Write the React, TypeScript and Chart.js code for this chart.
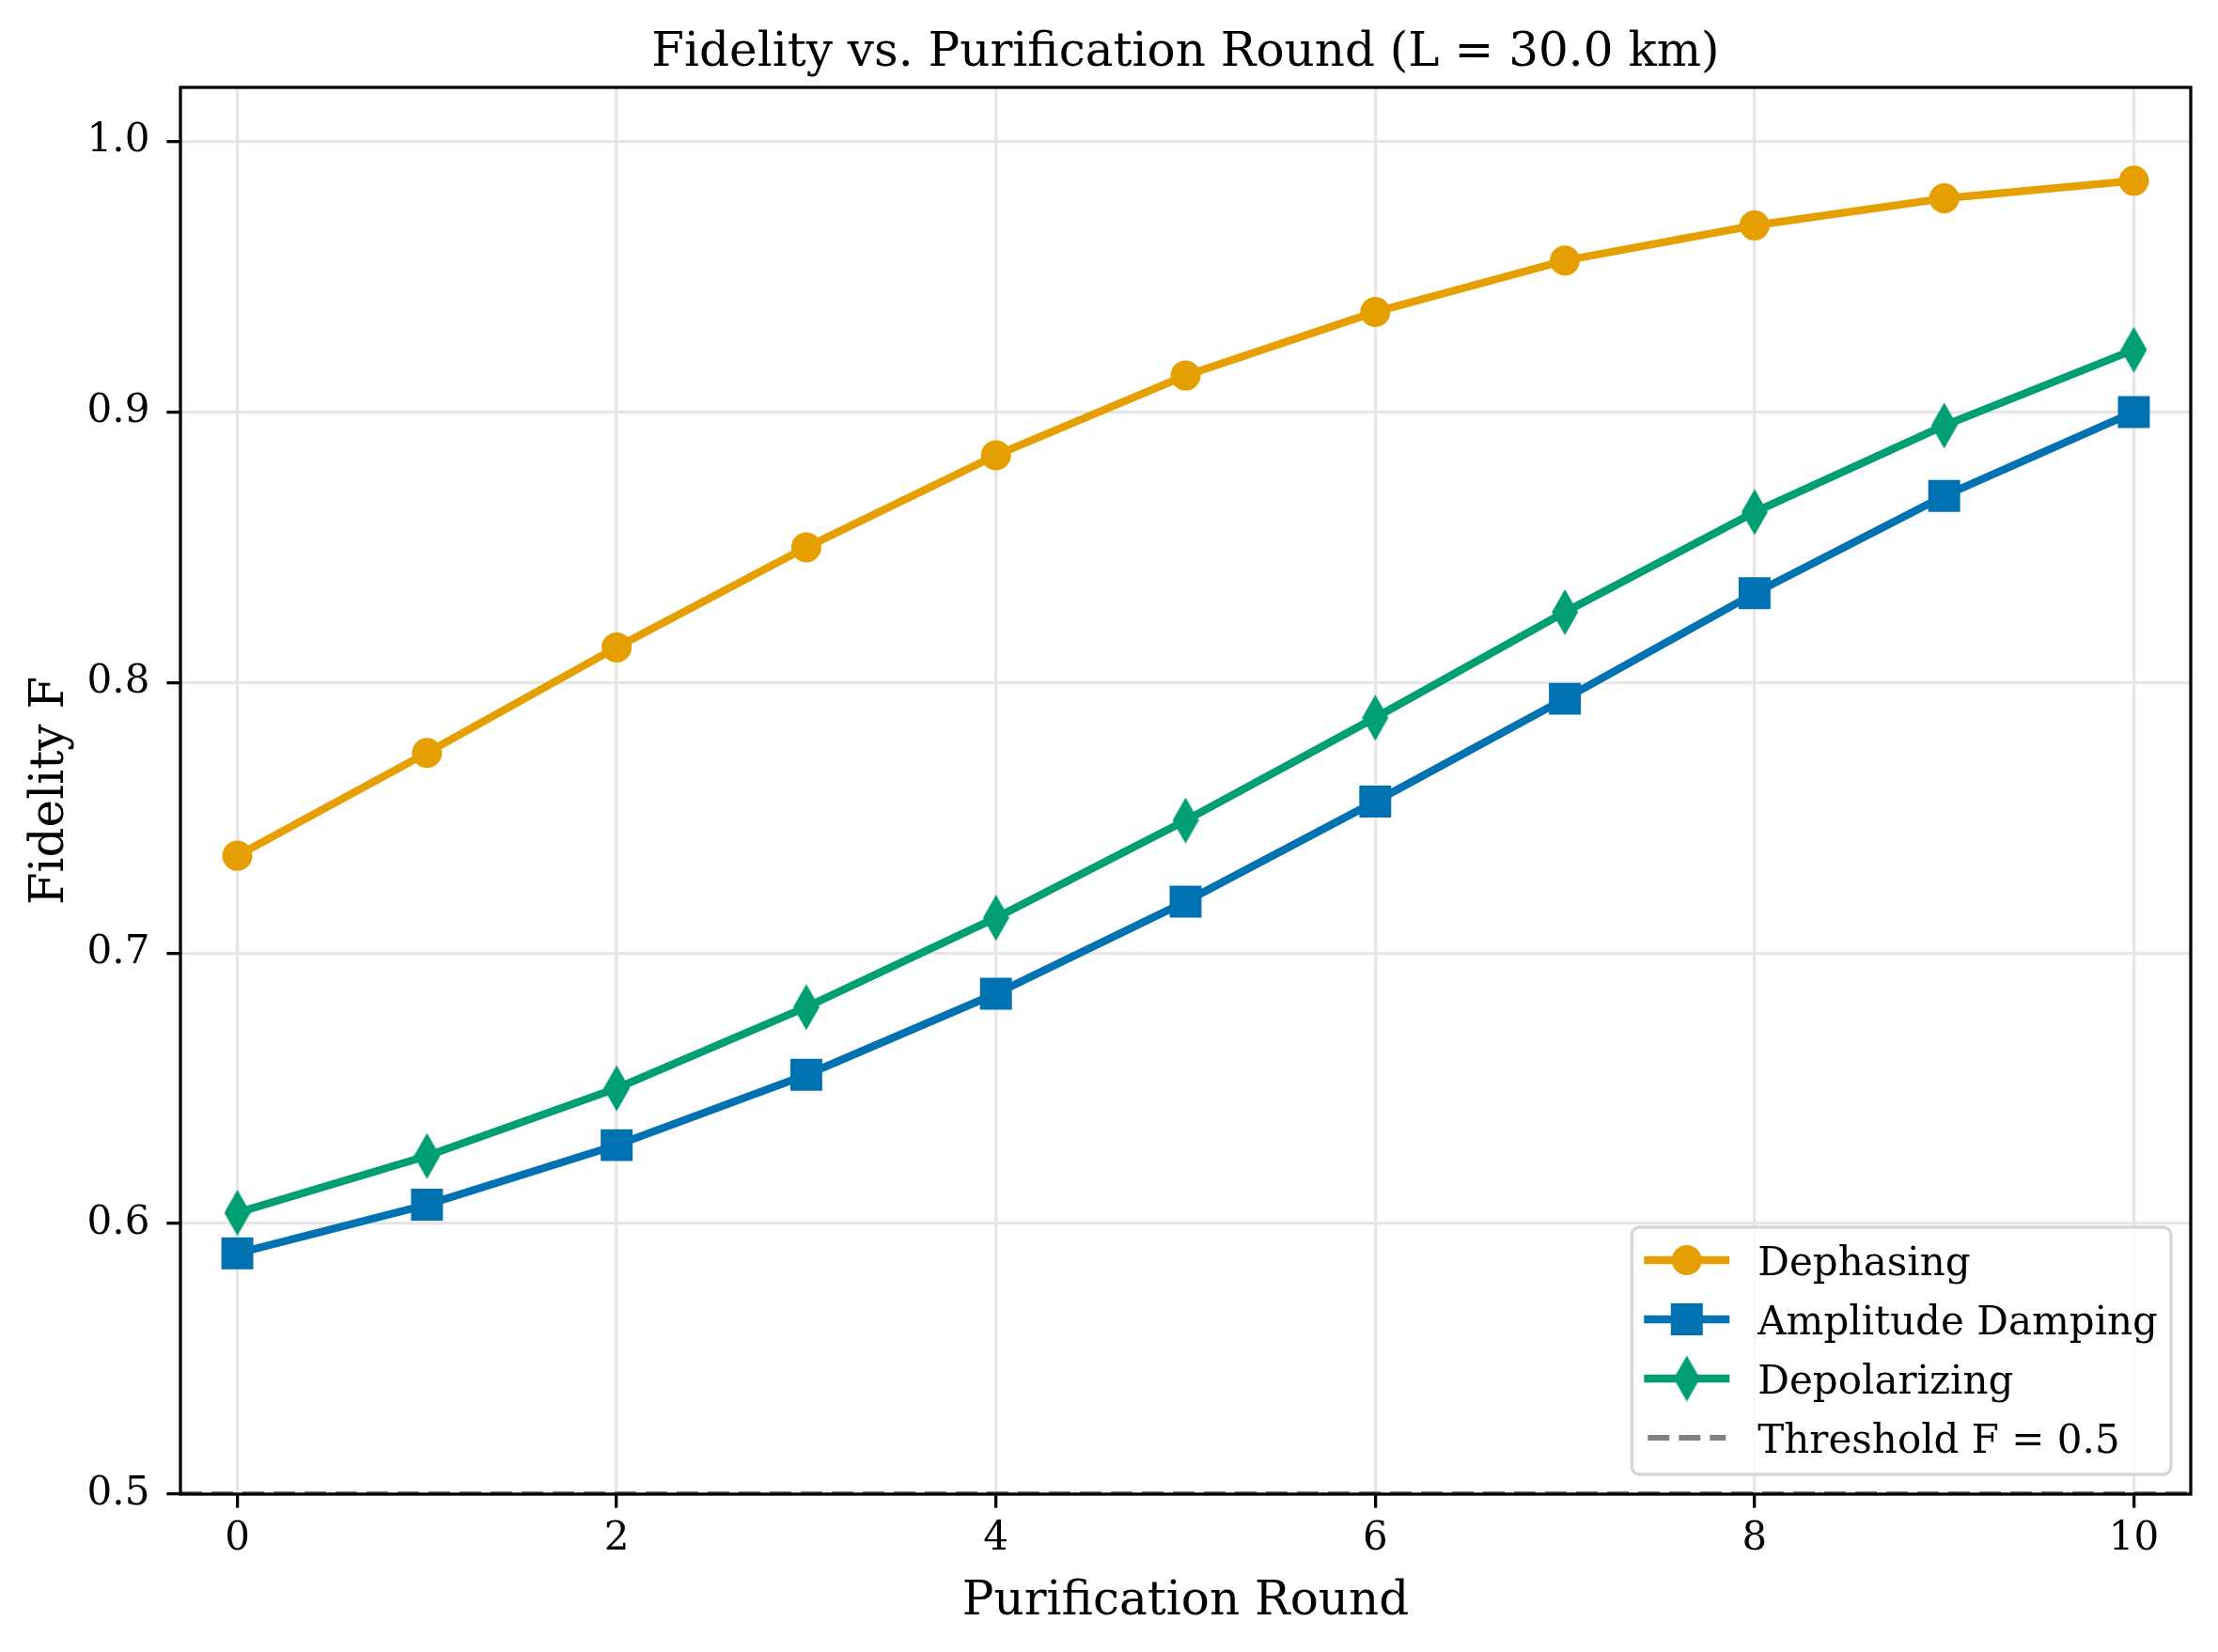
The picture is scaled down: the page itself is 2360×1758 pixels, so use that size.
import React, { useEffect, useRef } from "react";
import { Chart, registerables } from "chart.js";

Chart.register(...registerables);

// ---------- data ----------
const rounds = [0, 1, 2, 3, 4, 5, 6, 7, 8, 9, 10];
const dephasing = [0.736, 0.774, 0.813, 0.85, 0.884, 0.9135, 0.937, 0.956, 0.969, 0.979, 0.9855];
const amplitudeDamping = [0.589, 0.607, 0.629, 0.655, 0.685, 0.719, 0.756, 0.794, 0.833, 0.869, 0.9];
const depolarizing = [0.604, 0.625, 0.65, 0.68, 0.713, 0.749, 0.787, 0.826, 0.863, 0.895, 0.923];
const thresholdValue = 0.5;
const xTicks = [0, 2, 4, 6, 8, 10];
const yTicks = [0.5, 0.6, 0.7, 0.8, 0.9, 1.0];
const xRange = [-0.3, 10.3];
const yRange = [0.5, 1.02];
const seriesLabels = ["Dephasing", "Amplitude Damping", "Depolarizing", "Threshold F = 0.5"];
const chartTitle = "Fidelity vs. Purification Round (L = 30.0 km)";
const xLabel = "Purification Round";
const yLabel = "Fidelity F";

// ---------- style ----------
const FONT = '"DejaVu Serif", "Liberation Serif", serif';
const COLORS = ["#E69F00", "#0072B2", "#009E73", "#808080"];
const LW = 8.3;
const SPINE = 3.3;

function makeDiamond(color: string): HTMLCanvasElement {
  const w = 28;
  const h = 49;
  const c = document.createElement("canvas");
  c.width = w;
  c.height = h;
  const g = c.getContext("2d")!;
  g.fillStyle = color;
  g.beginPath();
  g.moveTo(w / 2, 0);
  g.lineTo(w, h / 2);
  g.lineTo(w / 2, h);
  g.lineTo(0, h / 2);
  g.closePath();
  g.fill();
  return c;
}

function drawMarker(ctx: CanvasRenderingContext2D, style: any, x: number, y: number, color: string) {
  ctx.fillStyle = color;
  if (style === "circle") {
    ctx.beginPath();
    ctx.arc(x, y, 16, 0, Math.PI * 2);
    ctx.fill();
  } else if (style === "rect") {
    ctx.fillRect(x - 17, y - 17, 34, 34);
  } else if (style && typeof style === "object") {
    ctx.drawImage(style, x - style.width / 2, y - style.height / 2);
  }
}

const decorPlugin = {
  id: "decor",
  afterDatasetsDraw(chart: any) {
    const { ctx, chartArea: a } = chart;
    ctx.save();
    ctx.strokeStyle = "#000";
    ctx.lineWidth = SPINE;
    ctx.strokeRect(a.left, a.top, a.right - a.left, a.bottom - a.top);
    ctx.restore();
  },
  afterDraw(chart: any) {
    const { ctx, chartArea: a } = chart;
    ctx.save();
    // title
    ctx.fillStyle = "#000";
    ctx.font = `50px ${FONT}`;
    ctx.textAlign = "center";
    ctx.textBaseline = "alphabetic";
    ctx.fillText(chartTitle, (a.left + a.right) / 2, 70);
    // x label
    ctx.fillText(xLabel, (a.left + a.right) / 2, 1718);
    // y label
    ctx.save();
    ctx.translate(67, (a.top + a.bottom) / 2);
    ctx.rotate(-Math.PI / 2);
    ctx.fillText(yLabel, 0, 0);
    ctx.restore();

    // legend
    ctx.font = `42px ${FONT}`;
    let maxW = 0;
    seriesLabels.forEach((l) => {
      maxW = Math.max(maxW, ctx.measureText(l).width);
    });
    const boxRight = a.right - 21;
    const boxBottom = a.bottom - 21;
    const boxTop = boxBottom - 263;
    const boxLeft = boxRight - (13 + 91 + 32 + maxW + 12);
    const r = 8;
    ctx.beginPath();
    ctx.moveTo(boxLeft + r, boxTop);
    ctx.lineTo(boxRight - r, boxTop);
    ctx.arcTo(boxRight, boxTop, boxRight, boxTop + r, r);
    ctx.lineTo(boxRight, boxBottom - r);
    ctx.arcTo(boxRight, boxBottom, boxRight - r, boxBottom, r);
    ctx.lineTo(boxLeft + r, boxBottom);
    ctx.arcTo(boxLeft, boxBottom, boxLeft, boxBottom - r, r);
    ctx.lineTo(boxLeft, boxTop + r);
    ctx.arcTo(boxLeft, boxTop, boxLeft + r, boxTop, r);
    ctx.closePath();
    ctx.fillStyle = "rgba(255,255,255,0.8)";
    ctx.fill();
    ctx.strokeStyle = "#d6d6d6";
    ctx.lineWidth = 3.3;
    ctx.stroke();

    const datasets = chart.data.datasets;
    datasets.forEach((ds: any, i: number) => {
      const cy = boxTop + 35 + 63 * i;
      const x0 = boxLeft + 13;
      const x1 = x0 + 91;
      ctx.save();
      ctx.strokeStyle = ds.borderColor;
      ctx.lineWidth = ds.borderWidth;
      if (ds.borderDash) ctx.setLineDash(ds.borderDash);
      ctx.beginPath();
      if (ds.borderDash) {
        ctx.moveTo(x0 + 4, cy);
        ctx.lineTo(x1 - 4, cy);
      } else {
        ctx.moveTo(x0, cy);
        ctx.lineTo(x1, cy);
      }
      ctx.stroke();
      ctx.restore();
      if (ds.pointRadius !== 0) drawMarker(ctx, ds.pointStyle, (x0 + x1) / 2, cy, ds.borderColor);
      ctx.fillStyle = "#000";
      ctx.font = `42px ${FONT}`;
      ctx.textAlign = "left";
      ctx.textBaseline = "alphabetic";
      ctx.fillText(ds.label, boxLeft + 134, cy + 16);
    });
    ctx.restore();
  },
};

export default function App() {
  const ref = useRef<HTMLCanvasElement | null>(null);
  useEffect(() => {
    document.body.style.margin = "0";
    const canvas = ref.current!;
    const toPts = (arr: number[]) => rounds.map((r, i) => ({ x: r, y: arr[i] }));
    const diamond = makeDiamond(COLORS[2]);
    const chart = new Chart(canvas, {
      type: "line",
      data: {
        datasets: [
          {
            label: seriesLabels[0],
            data: toPts(dephasing),
            borderColor: COLORS[0],
            backgroundColor: COLORS[0],
            borderWidth: LW,
            pointStyle: "circle",
            pointRadius: 16,
            pointBorderWidth: 0,
            pointBackgroundColor: COLORS[0],
            tension: 0,
            clip: false as any,
          },
          {
            label: seriesLabels[1],
            data: toPts(amplitudeDamping),
            borderColor: COLORS[1],
            backgroundColor: COLORS[1],
            borderWidth: LW,
            pointStyle: "rect",
            pointRadius: 24,
            pointBorderWidth: 0,
            pointBackgroundColor: COLORS[1],
            tension: 0,
            clip: false as any,
          },
          {
            label: seriesLabels[2],
            data: toPts(depolarizing),
            borderColor: COLORS[2],
            backgroundColor: COLORS[2],
            borderWidth: LW,
            pointStyle: diamond as any,
            pointRadius: 14,
            pointBorderWidth: 0,
            pointBackgroundColor: COLORS[2],
            tension: 0,
            clip: false as any,
          },
          {
            label: seriesLabels[3],
            data: [
              { x: xRange[0], y: thresholdValue },
              { x: xRange[1], y: thresholdValue },
            ],
            borderColor: COLORS[3],
            backgroundColor: COLORS[3],
            borderWidth: 6.2,
            borderDash: [23, 10],
            pointRadius: 0,
            tension: 0,
            clip: 0 as any,
          },
        ],
      },
      options: {
        responsive: false,
        animation: false,
        devicePixelRatio: 1,
        layout: { padding: { left: 0, top: 93, right: 29, bottom: 0 } },
        plugins: {
          legend: { display: false },
          title: { display: false },
          tooltip: { enabled: false },
        },
        scales: {
          x: {
            type: "linear",
            min: xRange[0],
            max: xRange[1],
            afterFit: (s: any) => {
              s.height = 168;
            },
            afterBuildTicks: (s: any) => {
              s.ticks = xTicks.map((v) => ({ value: v }));
            },
            ticks: {
              callback: (v: any) => String(v),
              font: { family: FONT, size: 42 },
              color: "#000",
              padding: 8,
              maxRotation: 0,
              autoSkip: false,
            },
            grid: {
              color: "#e6e6e6",
              lineWidth: 3.3,
              tickColor: "#000",
              tickWidth: 3.3,
              tickLength: 14.6,
            },
            border: { display: false },
          },
          y: {
            type: "linear",
            min: yRange[0],
            max: yRange[1],
            afterFit: (s: any) => {
              s.width = 192;
            },
            afterBuildTicks: (s: any) => {
              s.ticks = yTicks.map((v) => ({ value: v }));
            },
            ticks: {
              callback: (v: any) => Number(v).toFixed(1),
              font: { family: FONT, size: 42 },
              color: "#000",
              padding: 18,
              autoSkip: false,
            },
            grid: {
              color: "#e6e6e6",
              lineWidth: 3.3,
              tickColor: "#000",
              tickWidth: 3.3,
              tickLength: 14.6,
            },
            border: { display: false },
          },
        },
      },
      plugins: [decorPlugin],
    });
    return () => chart.destroy();
  }, []);
  return (
    <div style={{ width: 2360, height: 1758, background: "#fff" }}>
      <canvas ref={ref} width={2360} height={1758} style={{ display: "block", width: 2360, height: 1758 }} />
    </div>
  );
}
